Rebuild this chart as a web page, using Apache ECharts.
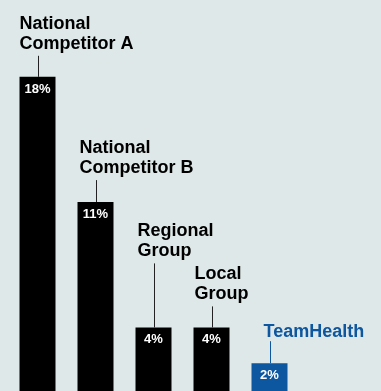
<!DOCTYPE html>
<html>
<head>
<meta charset="utf-8">
<script src="https://cdn.jsdelivr.net/npm/echarts@6/dist/echarts.min.js"></script>
<style>
html,body{margin:0;padding:0;background:#dfe8e8;}
#chart{width:381px;height:391px;}
</style>
</head>
<body>
<div id="chart"></div>
<script>
const categories = ['National\nCompetitor A', 'National\nCompetitor B', 'Regional\nGroup', 'Local\nGroup', 'TeamHealth'];
const shares = [18, 11, 4, 4, 2];

// styling (not data)
const leaderLengths = [21, 22, 64, 21, 22];
const labelDx = [-1, 1, 1, 0, 11];
const labelGap = [2, 2, 2, 2, -1];
const BLACK = '#000000';
const BLUE = '#0d56a0';
const colorFor = i => (i === categories.length - 1 ? BLUE : BLACK);
const FONT = '"Liberation Sans", Arial, Helvetica, sans-serif';

const chart = echarts.init(document.getElementById('chart'), null, {renderer: 'canvas'});
chart.setOption({
  backgroundColor: '#dfe8e8',
  animation: false,
  grid: {left: 8.5, right: 82.5, top: 41, bottom: 0, containLabel: false},
  xAxis: {type: 'category', data: categories, show: false},
  // axis baseline sits just below the picture's bottom edge
  yAxis: {type: 'value', min: 0.447, max: 20, show: false},
  series: [
    {
      type: 'bar',
      barWidth: 36,
      data: shares.map((v, i) => ({value: v, itemStyle: {color: colorFor(i)}})),
      label: {
        show: true,
        position: 'insideTop',
        distance: 6,
        color: '#ffffff',
        fontFamily: FONT,
        fontWeight: 'bold',
        fontSize: 13,
        formatter: p => p.value + '%'
      }
    },
    {
      type: 'custom',
      silent: true,
      data: shares.map((v, i) => [i, v]),
      renderItem: function (params, api) {
        const i = api.value(0);
        const pt = api.coord([i, api.value(1)]);
        const x = Math.round(pt[0]) + 0.5;
        const y = pt[1];
        const len = leaderLengths[i];
        const c = i === categories.length - 1 ? BLUE : '#222222';
        return {
          type: 'group',
          children: [
            {type: 'line', shape: {x1: x, y1: y - len, x2: x, y2: y}, style: {stroke: c, lineWidth: 1}},
            {
              type: 'text',
              x: x - 18 + labelDx[i],
              y: y - len - labelGap[i],
              style: {
                text: categories[i],
                fill: colorFor(i),
                font: 'bold 18px ' + FONT,
                textAlign: 'left',
                textVerticalAlign: 'bottom',
                lineHeight: 20
              }
            }
          ]
        };
      }
    }
  ]
});
</script>
</body>
</html>
